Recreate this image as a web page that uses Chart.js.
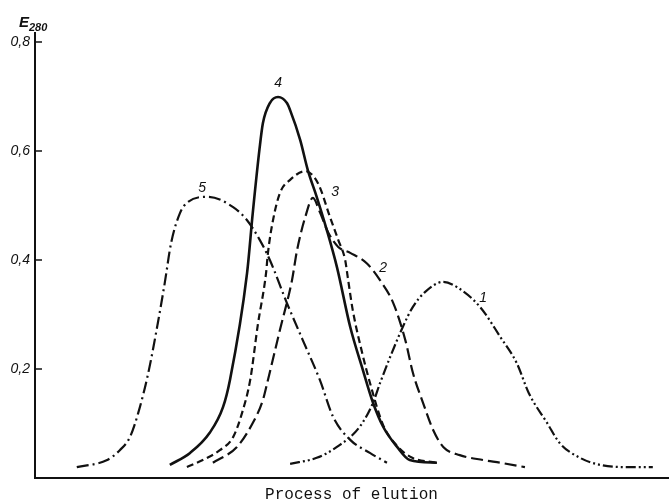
<!DOCTYPE html>
<html>
<head>
<meta charset="utf-8">
<script src="https://cdn.jsdelivr.net/npm/chart.js@4/dist/chart.umd.min.js"></script>
<style>
  html, body { margin: 0; padding: 0; background: #fff; }
  #wrap { width: 669px; height: 504px; }
</style>
</head>
<body>
<div id="wrap"><canvas id="c"></canvas></div>
<script>
// elution profiles, x = elution position (0-100), y = E280
const c1x = [40.3, 44.5, 47.7, 51.3, 53.4, 54.5, 58.1, 59.7, 61.6, 64.5, 66.7, 70.3, 73.5, 76.1, 78.0, 80.9, 82.9, 86.1, 89.3, 93.5, 97.6];
const c1y = [0.026, 0.037, 0.057, 0.094, 0.138, 0.174, 0.277, 0.314, 0.341, 0.360, 0.350, 0.314, 0.259, 0.211, 0.156, 0.101, 0.064, 0.037, 0.024, 0.020, 0.020];

const c2x = [28.1, 31.9, 34.4, 36.0, 36.8, 38.7, 40.6, 41.4, 42.7, 43.9, 45.0, 46.3, 47.9, 49.8, 52.4, 54.5, 56.6, 58.5, 59.7, 61.3, 62.9, 64.5, 67.1, 70.8, 73.5, 77.4];
const c2y = [0.028, 0.057, 0.101, 0.143, 0.180, 0.272, 0.363, 0.418, 0.479, 0.514, 0.488, 0.451, 0.424, 0.413, 0.394, 0.363, 0.321, 0.253, 0.193, 0.138, 0.088, 0.057, 0.042, 0.033, 0.028, 0.020];

const c3x = [24.0, 26.5, 29.2, 31.3, 32.7, 34.0, 35.2, 36.5, 36.8, 37.6, 38.7, 40.3, 42.7, 44.7, 46.6, 47.9, 49.0, 49.4, 50.2, 51.7, 53.0, 55.0, 57.2, 59.6, 63.5];
const c3y = [0.020, 0.033, 0.051, 0.075, 0.119, 0.180, 0.281, 0.376, 0.413, 0.473, 0.523, 0.547, 0.563, 0.541, 0.479, 0.437, 0.400, 0.369, 0.308, 0.229, 0.171, 0.097, 0.059, 0.037, 0.028];

const c4x = [21.3, 24.5, 27.6, 29.7, 30.8, 33.5, 34.4, 35.5, 36.0, 37.1, 38.4, 39.8, 40.3, 41.9, 43.1, 44.5, 46.1, 47.7, 49.8, 51.8, 53.4, 55.0, 57.2, 59.2, 63.5];
const c4y = [0.024, 0.046, 0.083, 0.130, 0.180, 0.376, 0.486, 0.607, 0.651, 0.688, 0.699, 0.688, 0.675, 0.620, 0.565, 0.516, 0.455, 0.387, 0.277, 0.198, 0.138, 0.094, 0.057, 0.033, 0.028];

const c5x = [6.6, 11.4, 13.4, 15.0, 16.3, 17.9, 19.4, 20.5, 21.5, 22.9, 24.0, 27.3, 31.3, 33.5, 35.5, 37.1, 39.8, 42.3, 45.0, 47.1, 49.8, 52.9, 55.6];
const c5y = [0.020, 0.033, 0.051, 0.075, 0.119, 0.193, 0.284, 0.358, 0.431, 0.486, 0.505, 0.516, 0.497, 0.473, 0.437, 0.400, 0.321, 0.253, 0.180, 0.112, 0.070, 0.046, 0.028];

const curveNames = ["1", "2", "3", "4", "5"];
const labelX = [70.8, 55.0, 47.4, 38.4, 26.4];
const labelY = [0.330, 0.385, 0.525, 0.725, 0.532];

const yTicks = [0.2, 0.4, 0.6, 0.8];

const pts = (xs, ys) => xs.map((x, i) => ({ x, y: ys[i] }));

function curve(data, dash, width) {
  return {
    data, borderColor: "#111", borderWidth: width || 2.2, borderDash: dash,
    pointRadius: 0, fill: false, showLine: true, cubicInterpolationMode: "monotone"
  };
}

const extras = {
  id: "extras",
  afterDraw(chart) {
    const { ctx, scales: { x, y } } = chart;
    ctx.save();
    ctx.strokeStyle = "#111";
    ctx.lineWidth = 1.5;
    // inward tick marks
    yTicks.forEach(v => {
      const py = y.getPixelForValue(v);
      ctx.beginPath();
      ctx.moveTo(x.left, py);
      ctx.lineTo(x.left + 7, py);
      ctx.stroke();
    });
    // curve numbers
    ctx.fillStyle = "#111";
    ctx.font = "italic 14px 'Liberation Sans', Arial, sans-serif";
    ctx.textAlign = "center";
    ctx.textBaseline = "middle";
    curveNames.forEach((n, i) => {
      ctx.fillText(n, x.getPixelForValue(labelX[i]), y.getPixelForValue(labelY[i]));
    });
    // axis title E280
    ctx.textAlign = "left";
    ctx.textBaseline = "alphabetic";
    ctx.font = "italic bold 15px 'Liberation Sans', Arial, sans-serif";
    ctx.fillText("E", 19, 27);
    ctx.font = "italic bold 11px 'Liberation Sans', Arial, sans-serif";
    ctx.fillText("280", 29, 31);
    ctx.restore();
  }
};

new Chart(document.getElementById("c"), {
  type: "scatter",
  data: {
    datasets: [
      curve(pts(c1x, c1y), [10, 3, 2, 3, 2, 3]),
      curve(pts(c2x, c2y), [12, 5]),
      curve(pts(c3x, c3y), [7, 4]),
      curve(pts(c4x, c4y), [], 2.6),
      curve(pts(c5x, c5y), [12, 4, 2, 4])
    ]
  },
  options: {
    responsive: true, maintainAspectRatio: false, animation: false,
    layout: { padding: { top: 33, right: 1, left: 0, bottom: 0 } },
    plugins: { legend: { display: false }, tooltip: { enabled: false } },
    scales: {
      x: {
        type: "linear", min: 0, max: 100,
        grid: { display: false, drawTicks: false, tickLength: 0 },
        border: { display: true, color: "#111", width: 2 },
        ticks: { display: false },
        title: {
          display: true, text: "Process of elution", color: "#111",
          font: { family: "'Liberation Mono', 'Courier New', monospace", size: 16 },
          padding: { top: 4, bottom: 0 }
        },
        afterFit(s) { s.height = 26; }
      },
      y: {
        type: "linear", min: 0, max: 0.8165,
        grid: { display: false, drawTicks: false, tickLength: 0 },
        border: { display: true, color: "#111", width: 2 },
        afterBuildTicks(s) { s.ticks = yTicks.map(v => ({ value: v })); },
        ticks: {
          color: "#111", padding: 5,
          font: { family: "'Liberation Sans', Arial, sans-serif", size: 14, style: "italic" },
          callback: v => v.toFixed(1).replace(".", ",")
        },
        afterFit(s) { s.width = 35; }
      }
    }
  },
  plugins: [extras]
});
</script>
</body>
</html>
